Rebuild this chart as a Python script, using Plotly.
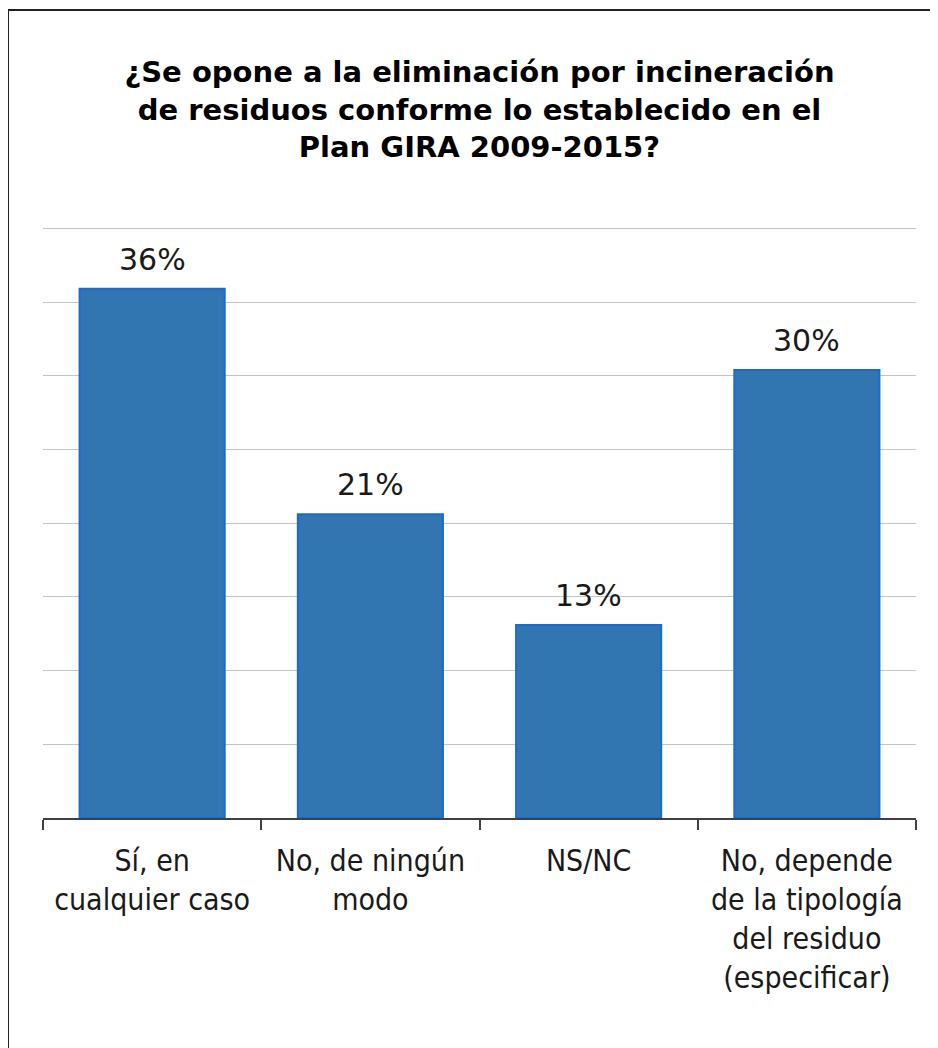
import plotly.graph_objects as go

categories = ["Sí, en<br>cualquier caso", "No, de ningún<br>modo", "NS/NC",
              "No, depende<br>de la tipología<br>del residuo<br>(especificar)"]
values = [35.9, 20.6, 13.1, 30.4]
labels = ["36%", "21%", "13%", "30%"]
grid_values = [0, 5, 10, 15, 20, 25, 30, 35, 40]
title_text = "¿Se opone a la eliminación por incineración<br>de residuos conforme lo establecido en el<br>Plan GIRA 2009-2015?"

W, H = 938, 1048
OFF = 8  # page body offset in the screenshot
Y_MAX = 40.5
PX_PER_UNIT = 590 / 40
L, R = 43 - OFF, 22 + OFF
B = H - (818 - OFF)
T = round((818 - OFF) - Y_MAX * PX_PER_UNIT)
pw, ph = W - L - R, H - T - B

def px_x(p):
    return (p - L) / pw

def px_y(p):
    return (H - B - p) / ph

fig = go.Figure()
fig.add_trace(go.Bar(
    x=categories, y=values,
    marker=dict(color="#3276B1", line=dict(color="#1A6BD0", width=2)),
    hoverinfo="skip",
))

for c, v, t in zip(categories, values, labels):
    fig.add_annotation(x=c, y=v, text=t, showarrow=False, yanchor="bottom", yshift=10,
                       font=dict(family="DejaVu Sans", size=30, color="#1a1a1a"))

fig.update_layout(
    width=W, height=H,
    margin=dict(l=L, r=R, t=T, b=B),
    paper_bgcolor="white", plot_bgcolor="white",
    showlegend=False,
    bargap=0.335,
    title=dict(text=title_text, x=0.5, xref="paper", xanchor="center",
               y=1 - 74 / H, yref="container", yanchor="top",
               font=dict(family="DejaVu Sans", size=29, color="black", weight="bold")),
    xaxis=dict(showline=True, linecolor="#404040", linewidth=2,
               ticks="outside", tickson="boundaries", ticklen=10, tickcolor="#404040", tickwidth=1.5,
               ticklabelstandoff=15,
               tickfont=dict(family="DejaVu Sans Condensed, DejaVu Sans", size=30, color="#1a1a1a"),
               showgrid=False, zeroline=False),
    yaxis=dict(range=[0, Y_MAX], tickvals=grid_values,
               showgrid=True, gridcolor="#C4C4C4", gridwidth=1,
               showticklabels=False, zeroline=False, showline=False, fixedrange=True),
    shapes=[
        dict(type="rect", xref="paper", yref="paper",
             x0=px_x(0), x1=px_x(960), y0=px_y(2), y1=px_y(1100),
             line=dict(color="#222222", width=2), fillcolor="rgba(0,0,0,0)", layer="above"),
    ],
)

fig.write_html("out.html", config={"displayModeBar": False})
